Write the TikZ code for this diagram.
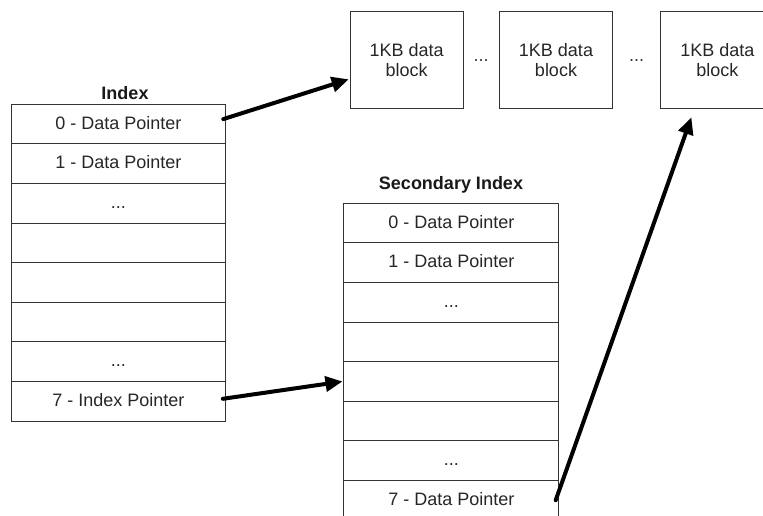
\documentclass[tikz,border=0pt]{standalone}
\usepackage{fontspec}
\setmainfont{Liberation Sans}
\usetikzlibrary{arrows.meta}
\newcommand\mydots{...}
\begin{document}
\begin{tikzpicture}[x=1pt,y=-1pt,
  cell/.style={draw=black!80,line width=1pt,minimum width=214pt,minimum height=39.6pt,inner sep=0pt,text height=14pt,text depth=3.6pt,font=\fontsize{18}{20}\selectfont,text=black!85},
  block/.style={draw=black!80,line width=1pt,minimum width=113pt,minimum height=97pt,inner sep=0pt,align=center,font=\fontsize{18}{20.5}\selectfont,text=black!85},
  title/.style={font=\fontsize{18}{20}\selectfont\bfseries,text=black!90},
  dots/.style={font=\fontsize{18}{20}\selectfont,text=black!80},
  ptr/.style={line width=4pt,line cap=round,-{Triangle[length=17pt,width=15pt]}}]
\useasboundingbox (0,0) rectangle (763,516);
% Index table
\node[title] (ilabel) at (125,93) {Index};
\foreach \k/\t in {0/0 - Data Pointer,1/1 - Data Pointer,2/\mydots,3/,4/,5/,6/\mydots,7/7 - Index Pointer}{
  \node[cell] (i\k) at (118.3,{104.3+39.6*(\k+0.5)}) {\t};
}
% Secondary index table
\node[title] (slabel) at (451,185) {Secondary Index};
\foreach \k/\t in {0/0 - Data Pointer,1/1 - Data Pointer,2/\mydots,3/,4/,5/,6/\mydots,7/7 - Data Pointer}{
  \node[cell,minimum width=214.7pt] (s\k) at (451.3,{203.3+39.6*(\k+0.5)}) {\t};
}
% Data blocks
\node[block] (b1) at (406.7,60.3) {1KB data\\block};
\node[block] (b2) at (556,60.3) {1KB data\\block};
\node[block] (b3) at (717.4,60.3) {1KB data\\block};
\node[dots] (d1) at (481,61) {\mydots};
\node[dots] (d2) at (636.5,61) {\mydots};
% Pointers
\draw[ptr] ([xshift=-2.5pt,yshift=5pt]i0.east) -- ([xshift=-1pt,yshift=-19pt]b1.west);
\draw[ptr] ([xshift=-3pt,yshift=2.5pt]i7.east) -- ([xshift=-1pt]s4.west);
\draw[ptr] ([xshift=-3.5pt,yshift=0pt]s7.east) -- ([xshift=31pt,yshift=-8pt]b3.south west);
\end{tikzpicture}
\end{document}
